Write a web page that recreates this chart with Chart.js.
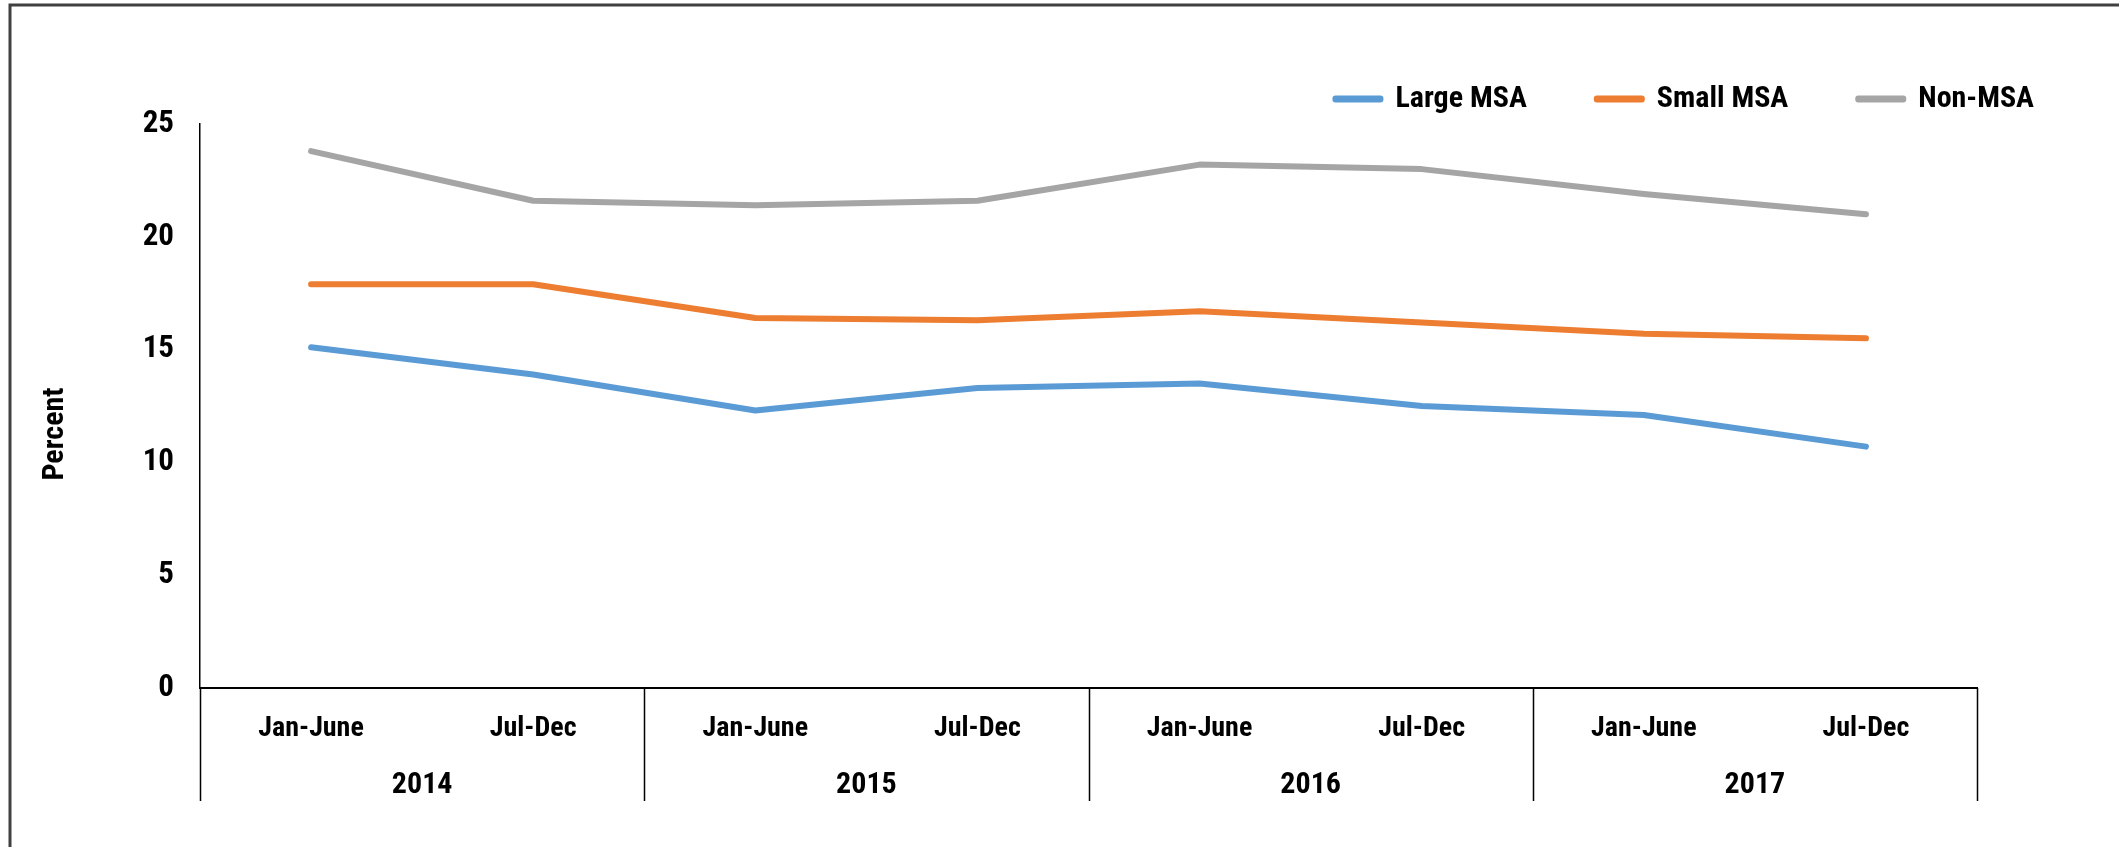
<!DOCTYPE html>
<html>
<head>
<meta charset="utf-8">
<script src="https://cdn.jsdelivr.net/npm/chart.js@4.4.1/dist/chart.umd.min.js"></script>
<style>
  html, body { margin: 0; padding: 0; background: #ffffff; }
  #wrap { width: 2119px; height: 847px; position: relative; }
</style>
</head>
<body>
<div id="wrap"><canvas id="c" width="2119" height="847"></canvas></div>
<script>
// ---- data ----
const periods = ['Jan-June', 'Jul-Dec', 'Jan-June', 'Jul-Dec', 'Jan-June', 'Jul-Dec', 'Jan-June', 'Jul-Dec'];
const years = ['2014', '2015', '2016', '2017'];
const largeMSA = [15.1, 13.9, 12.3, 13.3, 13.5, 12.5, 12.1, 10.7];
const smallMSA = [17.9, 17.9, 16.4, 16.3, 16.7, 16.2, 15.7, 15.5];
const nonMSA   = [23.8, 21.6, 21.4, 21.6, 23.2, 23.0, 21.9, 21.0];
const yTitle = 'Percent';

const FONT = '"Liberation Sans Narrow", "Roboto Condensed", "Open Sans", sans-serif';
const periodFont = { family: FONT, size: 28, weight: 'bold' };
const yearFont = { family: FONT, size: 30, weight: 'bold' };
const yTickFont = { family: FONT, size: 31, weight: 'bold' };

const decor = {
  id: 'decor',
  beforeDraw(chart) {
    const ctx = chart.ctx;
    ctx.save();
    ctx.strokeStyle = '#404040';
    ctx.lineWidth = 3;
    ctx.beginPath();
    ctx.moveTo(10, 900);
    ctx.lineTo(10, 5);
    ctx.lineTo(2200, 5);
    ctx.stroke();
    ctx.restore();
  },
  afterDraw(chart) {
    const ctx = chart.ctx;
    const x = chart.scales.x;
    const x2 = chart.scales.x2;
    const area = chart.chartArea;
    const bottom = x2.top + 51;
    const half = (x.getPixelForValue(1) - x.getPixelForValue(0)) / 2;
    ctx.save();
    ctx.strokeStyle = '#000000';
    ctx.lineWidth = 1.5;
    const xs = [];
    for (let i = 0; i < periods.length; i += 2) xs.push(x.getPixelForValue(i) - half);
    xs.push(x.getPixelForValue(periods.length - 1) + half);
    ctx.beginPath();
    xs.forEach(px => { ctx.moveTo(Math.round(px) + 0.5, area.bottom); ctx.lineTo(Math.round(px) + 0.5, bottom); });
    ctx.stroke();
    // y title
    ctx.fillStyle = '#000000';
    ctx.font = 'bold 30px ' + FONT;
    ctx.textAlign = 'center';
    ctx.textBaseline = 'middle';
    ctx.translate(55, 434);
    ctx.rotate(-Math.PI / 2);
    ctx.fillText(yTitle, 0, 0);
    ctx.restore();
  }
};

const common = { fill: false, borderWidth: 6, pointRadius: 0, pointHoverRadius: 0, tension: 0,
                 borderCapStyle: 'round', borderJoinStyle: 'round' };

new Chart(document.getElementById('c'), {
  type: 'line',
  data: {
    labels: periods,
    datasets: [
      Object.assign({ label: 'Large MSA', data: largeMSA, borderColor: '#5B9BD5', backgroundColor: '#5B9BD5' }, common),
      Object.assign({ label: 'Small MSA', data: smallMSA, borderColor: '#ED7D31', backgroundColor: '#ED7D31' }, common),
      Object.assign({ label: 'Non-MSA',   data: nonMSA,   borderColor: '#A5A5A5', backgroundColor: '#A5A5A5' }, common)
    ]
  },
  options: {
    responsive: false,
    animation: false,
    devicePixelRatio: 1,
    layout: { padding: { top: 14, right: 15, bottom: 0, left: 0 } },
    plugins: {
      legend: {
        display: true,
        position: 'top',
        align: 'end',
        labels: {
          font: { family: FONT, size: 30, weight: 'bold' },
          color: '#000000',
          boxWidth: 45,
          boxHeight: 1,
          padding: 70
        }
      },
      tooltip: { enabled: false }
    },
    scales: {
      x: {
        type: 'category',
        offset: true,
        grid: { display: false },
        border: { display: true, color: '#000000', width: 2 },
        ticks: { font: periodFont, color: '#000000', padding: 16, maxRotation: 0, autoSkip: false },
        afterFit(s) { s.height = 62; }
      },
      x2: {
        type: 'category',
        labels: years,
        position: 'bottom',
        offset: true,
        grid: { display: false },
        border: { display: false },
        ticks: { font: yearFont, color: '#000000', padding: 9, maxRotation: 0, autoSkip: false },
        afterFit(s) { s.height = 97; }
      },
      y: {
        min: 0,
        max: 25,
        position: 'left',
        grid: { display: false },
        border: { display: true, color: '#000000', width: 1.5 },
        ticks: { stepSize: 5, font: yTickFont, color: '#000000', padding: 18 },
        afterFit(s) { s.width = 200; }
      },
      y2: {
        position: 'right',
        display: true,
        grid: { display: false },
        border: { display: false },
        ticks: { display: false },
        afterFit(s) { s.width = 127; }
      }
    }
  },
  plugins: [decor]
});
</script>
</body>
</html>
